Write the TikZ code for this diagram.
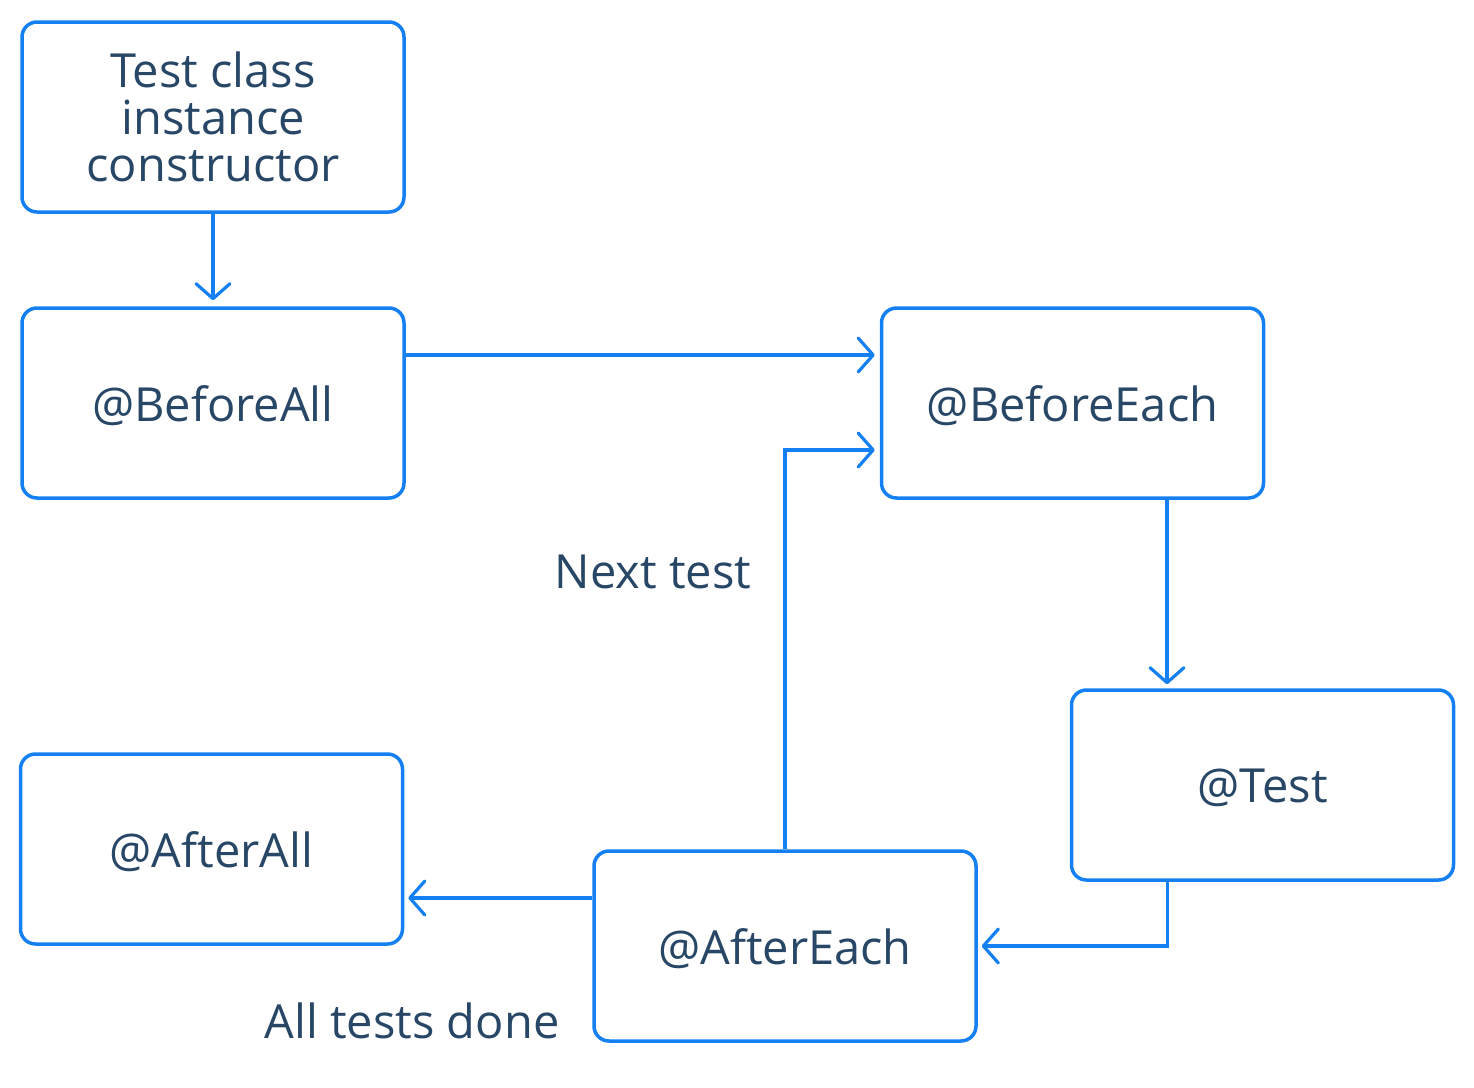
\documentclass[tikz,border=0pt]{standalone}
\usepackage{fontspec}
\setmainfont{Open Sans}
\usetikzlibrary{arrows.meta,calc}
\definecolor{edge}{HTML}{1580F3}
\definecolor{ink}{HTML}{284665}
\newcommand{\lowtext}[1]{\raisebox{-1.5pt}[\height][\depth]{#1}}
\tikzset{
  box/.style={draw=edge, line width=1.75pt, rounded corners=7.5pt, minimum width=191pt, minimum height=95pt, inner sep=0pt, align=center, text=ink, font=\fontsize{23.5}{23.5}\selectfont},
  lbl/.style={text=ink, font=\fontsize{23.5}{23.5}\selectfont, inner sep=0pt},
  conn/.style={draw=edge, line width=1.6pt, -{Straight Barb[length=7.5pt,width=17pt,line width=1.6pt,round]}},
}
\begin{document}
\begin{tikzpicture}[x=0.5pt,y=-0.5pt]
\useasboundingbox (0,0) rectangle (1474,1088);
\node[box] (ctor) at (213,117) {Test class\\instance\\constructor};
\node[box] (ba) at (213,403) {\lowtext{@BeforeAll}};
\node[box] (be) at (1072.5,403) {\lowtext{@BeforeEach}};
\node[box] (test) at (1262.5,785) {\lowtext{@Test}};
\node[box] (aa) at (211.5,849) {\lowtext{@AfterAll}};
\node[box] (ae) at (785,946) {\lowtext{@AfterEach}};
\node[lbl] (next) at (653,572) {Next test};
\node[lbl] (done) at (412,1021) {All tests done};
\draw[conn, shorten >=3pt] (ctor.south) -- (ba.north);
\draw[conn, shorten >=2.5pt] ([yshift=24pt]ba.east) -- ([yshift=24pt]be.west);
\draw[conn, shorten >=2.5pt] (ae.north) |- ([yshift=-23.5pt]be.west);
\draw[conn, shorten >=2pt] ([xshift=47.25pt]be.south) -- ([xshift=47.25pt]be.south |- test.north);
\draw[conn, shorten >=2pt] ([xshift=-47.5pt]test.south) |- (ae.east);
\draw[conn, shorten >=2pt] ([yshift=24pt]ae.west) -- ([yshift=24pt]ae.west -| aa.east);
\end{tikzpicture}
\end{document}
